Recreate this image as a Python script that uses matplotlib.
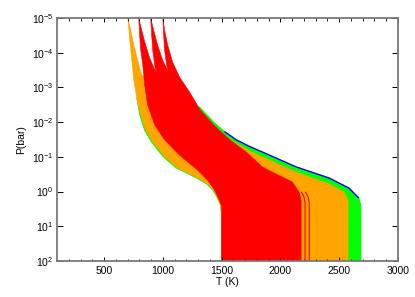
import numpy as np
import matplotlib
matplotlib.use('Agg')
import matplotlib.pyplot as plt
from matplotlib.ticker import FixedLocator, MultipleLocator, NullLocator

plt.rcParams['font.family'] = ['Liberation Sans', 'DejaVu Sans']
plt.rcParams['mathtext.fontset'] = 'custom'
plt.rcParams['mathtext.rm'] = 'Liberation Sans'
plt.rcParams['mathtext.it'] = 'Liberation Sans:italic'
plt.rcParams['mathtext.bf'] = 'Liberation Sans:bold'

# ---------------- data ----------------
# temperature in K, log10 of pressure in bar; edges listed top -> bottom

# orange family: left envelope and right envelope
orange_left_T = [702, 719, 736, 753, 778, 812, 854, 914, 1015, 1125, 1227, 1312, 1380, 1431, 1464, 1490, 1500, 1500]
orange_left_logP = [-5.00, -4.37, -3.79, -3.21, -2.70, -2.21, -1.77, -1.43, -1.00, -0.68, -0.51, -0.36, -0.22, -0.05, 0.16, 0.36, 0.68, 2.00]
orange_right_T = [702, 727, 753, 786, 820, 888, 1185, 1397, 1566, 1736, 1846, 2134, 2414, 2541, 2575, 2575]
orange_right_logP = [-5.00, -4.65, -4.22, -3.79, -3.36, -3.16, -2.64, -1.92, -1.50, -1.17, -1.00, -0.56, -0.22, 0.01, 0.24, 2.00]

# green family
green_left_T = [778, 804, 845, 903, 1004, 1113, 1216, 1302, 1372, 1424, 1460, 1489, 1500, 1500]
green_left_logP = [-2.70, -2.21, -1.77, -1.43, -1.00, -0.68, -0.51, -0.36, -0.22, -0.05, 0.16, 0.36, 0.68, 2.00]
green_right_T = [1312, 1439, 1524, 1625, 1736, 1846, 2134, 2414, 2583, 2668, 2685, 2685]
green_right_logP = [-2.44, -1.98, -1.73, -1.49, -1.30, -1.14, -0.71, -0.39, -0.10, 0.19, 0.42, 2.00]

# blue family (hottest edge)
blue_T = [1524, 1625, 1736, 1846, 2134, 2414, 2583, 2668]
blue_logP = [-1.73, -1.49, -1.30, -1.14, -0.71, -0.39, -0.10, 0.19]

# red family: left envelope, right envelope and the gaps between the three fans at the top
red_left_T = [795, 803, 812, 829, 846, 871, 931, 1015, 1142, 1295, 1380, 1439, 1473, 1500, 1500]
red_left_logP = [-5.00, -4.51, -4.08, -3.65, -3.07, -2.49, -1.92, -1.49, -1.05, -0.62, -0.33, -0.05, 0.19, 0.42, 2.00]
red_right_T = [1000, 1015, 1041, 1083, 1142, 1227, 1312, 1439, 1566, 1710, 1846, 1931, 2100, 2159, 2176, 2176]
red_right_logP = [-5.00, -4.65, -4.22, -3.73, -3.30, -2.87, -2.38, -1.90, -1.50, -1.14, -0.71, -0.56, -0.28, 0.01, 0.24, 2.00]
red_gap_T = [1007, 1015, 1032, 1045, 998, 956, 922, 897, 905, 914, 931, 939, 888, 854, 820]
red_gap_logP = [-4.51, -4.08, -3.65, -3.47, -3.79, -4.22, -4.65, -5.00, -4.51, -4.08, -3.65, -3.44, -3.85, -4.22, -4.65]

# a few hotter red profiles seen separately in the deep atmosphere
red_extra1_T = [2180, 2200, 2210, 2210]
red_extra1_logP = [0.02, 0.15, 0.32, 2.00]
red_extra2_T = [2215, 2235, 2245, 2245]
red_extra2_logP = [0.02, 0.15, 0.32, 2.00]

x_ticks = [500, 1000, 1500, 2000, 2500, 3000]
y_ticks = [1e-5, 1e-4, 1e-3, 1e-2, 1e-1, 1e0, 1e1, 1e2]
y_ticklabels = [r'$\mathregular{10^{-5}}$', r'$\mathregular{10^{-4}}$', r'$\mathregular{10^{-3}}$',
                r'$\mathregular{10^{-2}}$', r'$\mathregular{10^{-1}}$', r'$\mathregular{10^{0}}$',
                r'$\mathregular{10^{1}}$', r'$\mathregular{10^{2}}$']

RED = '#ff0000'
ORANGE = '#ffa500'
GREEN = '#00ff00'
BLUE = '#0000ff'

# ---------------- figure ----------------
fig = plt.figure(figsize=(4.15, 2.97), dpi=100)
ax = fig.add_axes([57 / 415, 1 - 261 / 297, (398 - 57) / 415, (261 - 18) / 297])
ax.set_yscale('log')


def band(left_T, left_lp, right_T, right_lp, extra_T=(), extra_lp=()):
    T = list(left_T) + list(right_T)[::-1] + list(extra_T)
    lp = list(left_lp) + list(right_lp)[::-1] + list(extra_lp)
    return np.array(T, float), 10.0 ** np.array(lp, float)


gT, gP = band(green_left_T, green_left_logP, green_right_T, green_right_logP)
ax.fill(gT, gP, color=GREEN, lw=0.6, ec=GREEN)
ax.plot(blue_T, 10.0 ** np.array(blue_logP), color=BLUE, lw=1.0, solid_capstyle='butt')

oT, oP = band(orange_left_T, orange_left_logP, orange_right_T, orange_right_logP)
ax.fill(oT, oP, color=ORANGE, lw=0.4, ec=ORANGE)

rT, rP = band(red_left_T, red_left_logP, red_right_T, red_right_logP, red_gap_T, red_gap_logP)
ax.fill(rT, rP, color=RED, lw=0.4, ec=RED)
ax.plot(red_extra1_T, 10.0 ** np.array(red_extra1_logP), color=RED, lw=0.8)
ax.plot(red_extra2_T, 10.0 ** np.array(red_extra2_logP), color=RED, lw=0.8)

ax.set_xlim(100, 3000)
ax.set_ylim(1e2, 1e-5)

ax.xaxis.set_major_locator(FixedLocator(x_ticks))
ax.xaxis.set_minor_locator(MultipleLocator(100))
ax.yaxis.set_major_locator(FixedLocator(y_ticks))
ax.yaxis.set_minor_locator(NullLocator())
ax.set_yticklabels(y_ticklabels)

for s in ax.spines.values():
    s.set_color('#7a7a7a')
    s.set_linewidth(1.3)

ax.tick_params(axis='x', which='major', direction='in', length=3.2, width=0.7,
               color='black', top=True, bottom=True, labelsize=7.5, pad=3.5)
ax.tick_params(axis='x', which='minor', direction='in', length=1.8, width=0.6,
               color='black', top=True, bottom=True)
ax.tick_params(axis='y', which='major', direction='in', length=4.6, width=0.7,
               color='black', left=True, right=True, labelsize=7.5, pad=2.5)

ax.set_xlabel('T (K)', fontsize=7.5, labelpad=1)
ax.set_ylabel('P(bar)', fontsize=7.5, labelpad=4)

fig.savefig('out.png', dpi=100)
